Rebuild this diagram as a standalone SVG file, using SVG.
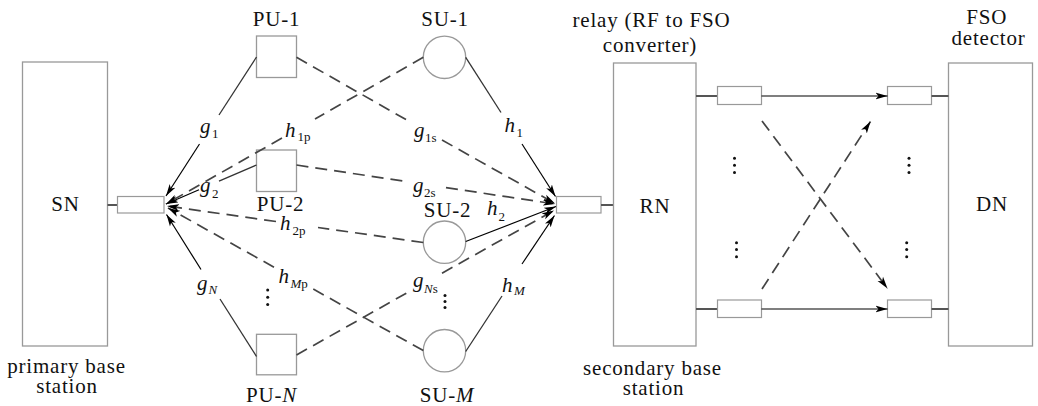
<svg xmlns="http://www.w3.org/2000/svg" width="1038" height="406" viewBox="0 0 1038 406">
  <style>
    .box { fill: #fff; stroke: #999; stroke-width: 1.3; }
    .port { fill: #fff; stroke: #999; stroke-width: 1.2; }
    .stub { stroke: #555; stroke-width: 2; fill: none; }
    .solid { stroke: #333; stroke-width: 1.3; fill: none; }
    .arr { stroke: #000; stroke-width: 1.2; fill: none; marker-end: url(#tip); }
    .dash { stroke: #444; stroke-width: 1.7; fill: none; stroke-dasharray: 12 7; }
    .dasharr { stroke: #444; stroke-width: 1.7; fill: none; stroke-dasharray: 12 7; marker-end: url(#tip); }
    .lbl { font-family: "Liberation Serif", "Times New Roman", serif; font-size: 21px; letter-spacing: 0.8px; fill: #111; text-anchor: middle; }
    .m { font-family: "Liberation Serif", "Times New Roman", serif; font-size: 21px; font-style: italic; fill: #111; }
    .sub { font-size: 13px; font-style: normal; }
    .subi { font-size: 13px; font-style: italic; }
    .dot { fill: #111; }
  </style>
  <defs>
    <marker id="tip" markerUnits="userSpaceOnUse" markerWidth="12" markerHeight="8" viewBox="0 0 12 8" refX="12" refY="4" orient="auto">
      <path d="M0,0.6 L12,4 L0,7.4 L3,4 Z" fill="#000"/>
    </marker>
  </defs>

  <!-- primary base station -->
  <g id="SN">
    <rect class="box" x="22.5" y="62" width="85" height="284"/>
    <text class="lbl" x="65.5" y="211">SN</text>
    <line class="stub" x1="107.5" y1="205" x2="117.5" y2="205"/>
    <rect class="port" x="117.5" y="196.5" width="46.5" height="16.5"/>
    <text class="lbl" x="66.5" y="372.7">primary base</text>
    <text class="lbl" x="67" y="393">station</text>
  </g>

  <!-- primary users -->
  <g id="PU-1">
    <rect class="box" x="256.5" y="36" width="40" height="41.5"/>
    <text class="lbl" x="276.5" y="26">PU-1</text>
  </g>
  <g id="PU-2">
    <rect class="box" x="256.5" y="150" width="40" height="41.5"/>
    <text class="lbl" x="280.5" y="211">PU-2</text>
  </g>
  <g id="PU-N">
    <rect class="box" x="256.5" y="334.3" width="40" height="40.5"/>
    <text class="lbl" x="271.5" y="401.5">PU-<tspan font-style="italic">N</tspan></text>
  </g>

  <!-- secondary users -->
  <g id="SU-1">
    <circle class="box" cx="444.5" cy="57.3" r="21.2"/>
    <text class="lbl" x="445" y="26">SU-1</text>
  </g>
  <g id="SU-2">
    <circle class="box" cx="444.5" cy="242.2" r="21.2"/>
    <text class="lbl" x="447.5" y="217">SU-2</text>
  </g>
  <g id="SU-M">
    <circle class="box" cx="444.5" cy="350.7" r="21.2"/>
    <text class="lbl" x="447" y="401.5">SU-<tspan font-style="italic">M</tspan></text>
  </g>

  <!-- relay / secondary base station -->
  <g id="RN">
    <rect class="port" x="556.5" y="196.5" width="44.5" height="16.5"/>
    <line class="stub" x1="601" y1="205" x2="613.5" y2="205"/>
    <rect class="box" x="613.5" y="63" width="82.5" height="283"/>
    <text class="lbl" x="655" y="212.5">RN</text>
    <text class="lbl" x="651.5" y="26.5">relay (RF to FSO</text>
    <text class="lbl" x="650" y="51.5">converter)</text>
    <text class="lbl" x="652.5" y="375">secondary base</text>
    <text class="lbl" x="653.5" y="395">station</text>
    <line class="stub" x1="696" y1="96" x2="717.5" y2="96"/>
    <rect class="port" x="717.5" y="86.5" width="44" height="18"/>
    <line class="stub" x1="696" y1="309" x2="717.5" y2="309"/>
    <rect class="port" x="717.5" y="300" width="44" height="17.5"/>
  </g>

  <!-- FSO detector -->
  <g id="DN">
    <rect class="box" x="948.5" y="63" width="84" height="283"/>
    <text class="lbl" x="992" y="210.5">DN</text>
    <text class="lbl" x="986.7" y="24">FSO</text>
    <text class="lbl" x="988.5" y="45">detector</text>
    <rect class="port" x="887.5" y="86.5" width="44" height="18"/>
    <line class="stub" x1="931.5" y1="96" x2="948.5" y2="96"/>
    <rect class="port" x="887.5" y="300" width="44" height="17.5"/>
    <line class="stub" x1="931.5" y1="309" x2="948.5" y2="309"/>
  </g>

  <!-- links -->
  <g id="connectors">
    <!-- primary users to SN -->
    <line class="solid" x1="256.5" y1="57" x2="219" y2="115"/>
    <line class="arr" x1="199.5" y1="144" x2="166" y2="196"/>
    <line class="solid" x1="256.5" y1="165" x2="219" y2="181.2"/>
    <line class="arr" x1="199" y1="189.8" x2="166" y2="204"/>
    <line class="solid" x1="256.5" y1="356.5" x2="220" y2="299"/>
    <line class="arr" x1="201" y1="269.5" x2="166.5" y2="214.5"/>

    <!-- secondary users interfering at SN -->
    <line class="dash" x1="423.3" y1="57.3" x2="315" y2="119"/>
    <line class="dasharr" x1="282" y1="138" x2="166" y2="204"/>
    <line class="dash" x1="423.3" y1="242.5" x2="318" y2="227.5"/>
    <line class="dasharr" x1="276" y1="221.5" x2="167" y2="206"/>
    <line class="dash" x1="423.3" y1="350.5" x2="312" y2="288.4"/>
    <line class="dasharr" x1="274" y1="267.2" x2="168" y2="208"/>

    <!-- primary users interfering at RN -->
    <line class="dash" x1="296.5" y1="57.3" x2="409" y2="121.3"/>
    <line class="dasharr" x1="442" y1="140" x2="555" y2="203.5"/>
    <line class="dash" x1="296.5" y1="165" x2="408" y2="181.8"/>
    <line class="dasharr" x1="446" y1="187.6" x2="555" y2="204"/>
    <line class="dash" x1="296.5" y1="355" x2="409" y2="291.7"/>
    <line class="dasharr" x1="442" y1="273.2" x2="554" y2="210.5"/>

    <!-- secondary users to RN -->
    <line class="solid" x1="465.7" y1="57.3" x2="501" y2="112.5"/>
    <line class="arr" x1="522" y1="144" x2="555.5" y2="196.5"/>
    <line class="arr" x1="465.7" y1="241.5" x2="556" y2="206.5"/>
    <line class="solid" x1="465.7" y1="351.5" x2="502" y2="296"/>
    <line class="arr" x1="522" y1="264" x2="554.5" y2="215.5"/>

    <!-- FSO links -->
    <line class="arr" x1="761.5" y1="96" x2="887.5" y2="96"/>
    <line class="arr" x1="761.5" y1="309" x2="887.5" y2="309"/>
    <line class="dasharr" x1="762" y1="121" x2="887.5" y2="288.5"/>
    <line class="dasharr" x1="762" y1="289" x2="870.5" y2="121.5"/>
  </g>

  <!-- channel labels -->
  <g id="labels">
    <text class="m" x="200" y="133">g<tspan class="sub" x="212" y="138">1</tspan></text>
    <text class="m" x="285" y="136.5">h<tspan class="sub" x="297.5" y="141">1p</tspan></text>
    <text class="m" x="200" y="192">g<tspan class="sub" x="212" y="197.5">2</tspan></text>
    <text class="m" x="414" y="137">g<tspan class="sub" x="425" y="141.5">1s</tspan></text>
    <text class="m" x="504.5" y="131.5">h<tspan class="sub" x="516.5" y="136.5">1</tspan></text>
    <text class="m" x="413" y="192">g<tspan class="sub" x="424" y="197">2s</tspan></text>
    <text class="m" x="487" y="215">h<tspan class="sub" x="498.5" y="221">2</tspan></text>
    <text class="m" x="280" y="230">h<tspan class="sub" x="292.5" y="235">2p</tspan></text>
    <text class="m" x="278.5" y="283.3">h<tspan class="subi" x="290.5" y="288.3">M</tspan><tspan class="sub">p</tspan></text>
    <text class="m" x="197" y="289.5">g<tspan class="subi" x="208.5" y="294.3">N</tspan></text>
    <text class="m" x="413" y="287">g<tspan class="subi" x="424" y="293">N</tspan><tspan class="sub">s</tspan></text>
    <text class="m" x="502" y="291.5">h<tspan class="subi" x="514" y="294.5">M</tspan></text>
  </g>

  <!-- ellipses -->
  <g id="ellipses">
    <circle class="dot" cx="267.7" cy="290" r="1.5"/>
    <circle class="dot" cx="267.7" cy="297.2" r="1.5"/>
    <circle class="dot" cx="267.7" cy="304.4" r="1.5"/>
    <circle class="dot" cx="445" cy="295.5" r="1.5"/>
    <circle class="dot" cx="445" cy="301.5" r="1.5"/>
    <circle class="dot" cx="445" cy="307.5" r="1.5"/>
    <circle class="dot" cx="734.5" cy="158.3" r="1.5"/>
    <circle class="dot" cx="734.5" cy="165.3" r="1.5"/>
    <circle class="dot" cx="734.5" cy="172.5" r="1.5"/>
    <circle class="dot" cx="909" cy="158.3" r="1.5"/>
    <circle class="dot" cx="909" cy="165.3" r="1.5"/>
    <circle class="dot" cx="909" cy="172.5" r="1.5"/>
    <circle class="dot" cx="736.5" cy="242.7" r="1.5"/>
    <circle class="dot" cx="736.5" cy="249.5" r="1.5"/>
    <circle class="dot" cx="736.5" cy="256.7" r="1.5"/>
    <circle class="dot" cx="906.7" cy="242.7" r="1.5"/>
    <circle class="dot" cx="906.7" cy="249.5" r="1.5"/>
    <circle class="dot" cx="906.7" cy="256.7" r="1.5"/>
  </g>
</svg>
